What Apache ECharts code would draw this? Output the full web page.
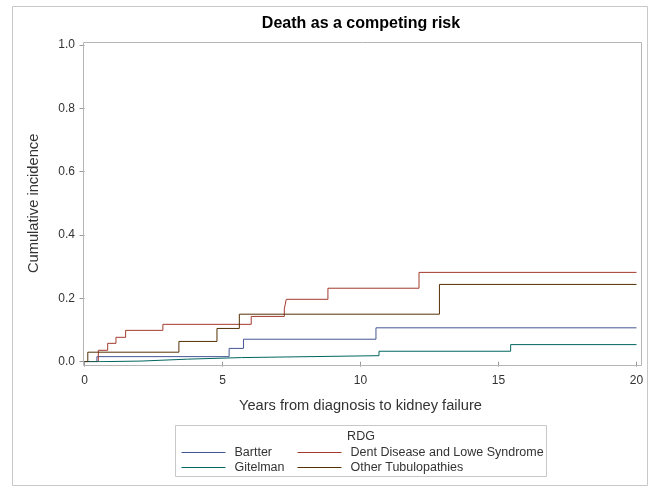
<!DOCTYPE html>
<html>
<head>
<meta charset="utf-8">
<script src="https://cdn.jsdelivr.net/npm/echarts@6/dist/echarts.min.js"></script>
<style>html,body{margin:0;padding:0;background:#fff;}#c{width:650px;height:488px;}</style>
</head>
<body>
<div id="c"></div>
<script>
// ---- data ----
var titleText = 'Death as a competing risk';
var xName = 'Years from diagnosis to kidney failure';
var yName = 'Cumulative incidence';
var legendTitle = 'RDG';
var seriesNames = ['Bartter', 'Dent Disease and Lowe Syndrome', 'Gitelman', 'Other Tubulopathies'];

var bartterX = [0, 0.45, 5.24, 5.76, 10.56, 20];
var bartterY = [0, 0.016, 0.042, 0.071, 0.107, 0.107];

var dentX = [0, 0.50, 0.84, 1.14, 1.49, 2.84, 6.04, 7.24, 7.31, 8.82, 12.12, 20];
var dentY = [0, 0.036, 0.058, 0.077, 0.099, 0.118, 0.143, 0.167, 0.197, 0.232, 0.282, 0.282];

var gitelmanX = [0, 0.50, 2.05, 3.73, 5.69, 10.67, 15.44, 20];
var gitelmanY = [0, 0.002, 0.008, 0.013, 0.019, 0.033, 0.054, 0.054];

var otherX = [0, 0.12, 3.42, 4.80, 5.61, 12.86, 20];
var otherY = [0, 0.030, 0.064, 0.105, 0.150, 0.244, 0.244];

var colors = ['#445694', '#A23A2E', '#01665E', '#543005'];

function pairs(xs, ys) { return xs.map(function (x, i) { return [x, ys[i]]; }); }
var allData = [pairs(bartterX, bartterY), pairs(dentX, dentY), pairs(gitelmanX, gitelmanY), pairs(otherX, otherY)];

var font = '"Liberation Sans", Arial, sans-serif';
var chart = echarts.init(document.getElementById('c'), null, {renderer: 'canvas'});

var series = seriesNames.map(function (n, i) {
  return {
    name: n, type: 'line', step: 'end', symbol: 'none', showSymbol: false, data: allData[i],
    lineStyle: {color: colors[i], width: 1}, itemStyle: {color: colors[i]},
    z: 3, silent: true, animation: false
  };
});

function legendBlock(names, left) {
  return {
    data: names, orient: 'vertical', left: left, top: 446, padding: 0,
    itemWidth: 44, itemHeight: 13, itemGap: 2, selectedMode: false,
    itemStyle: {opacity: 0},
    lineStyle: {width: 1},
    textStyle: {fontFamily: font, fontSize: 12.5, color: '#333', padding: [0, 0, 0, 4]}
  };
}

chart.setOption({
  animation: false,
  color: colors,
  title: [
    {text: titleText, left: 356, top: 11, textAlign: 'center',
     textStyle: {fontFamily: font, fontSize: 16, fontWeight: 'bold', color: '#000'}},
    {text: legendTitle, left: 356, top: 425, textAlign: 'center',
     textStyle: {fontFamily: font, fontSize: 12.5, fontWeight: 'normal', color: '#333'}}
  ],
  grid: {left: 84.5, right: 13.5, top: 45, bottom: 126.3, containLabel: false},
  xAxis: {
    type: 'value', min: 0, max: 20, interval: 5, offset: 4.3,
    name: xName, nameLocation: 'middle', nameGap: 32,
    nameTextStyle: {fontFamily: font, fontSize: 14.67, color: '#333'},
    axisLine: {show: false},
    axisTick: {show: true, length: 5, lineStyle: {color: '#999'}},
    axisLabel: {fontFamily: font, fontSize: 12, color: '#333', margin: 9},
    splitLine: {show: false}
  },
  yAxis: {
    type: 'value', min: 0, max: 1, interval: 0.2, offset: 1.5,
    name: yName, nameLocation: 'middle', nameGap: 42, nameRotate: 90,
    nameTextStyle: {fontFamily: font, fontSize: 14.67, color: '#333'},
    axisLine: {show: false},
    axisTick: {show: true, length: 5, lineStyle: {color: '#999'}},
    axisLabel: {fontFamily: font, fontSize: 12, color: '#333', margin: 8,
      formatter: function (v) { return v.toFixed(1); }},
    splitLine: {show: false}
  },
  legend: [
    legendBlock([seriesNames[0], seriesNames[2]], 181),
    legendBlock([seriesNames[1], seriesNames[3]], 297)
  ],
  graphic: [
    {type: 'rect', shape: {x: 12.5, y: 6.5, width: 635, height: 479}, style: {fill: 'none', stroke: '#c8c8c8', lineWidth: 1}, silent: true, z: 0},
    {type: 'rect', shape: {x: 83.5, y: 42.5, width: 558, height: 323}, style: {fill: 'none', stroke: '#b5b5b5', lineWidth: 1}, silent: true, z: 1},
    {type: 'rect', shape: {x: 175.5, y: 425.5, width: 371, height: 51}, style: {fill: 'none', stroke: '#c8c8c8', lineWidth: 1}, silent: true, z: 1}
  ],
  series: series
});
</script>
</body>
</html>
